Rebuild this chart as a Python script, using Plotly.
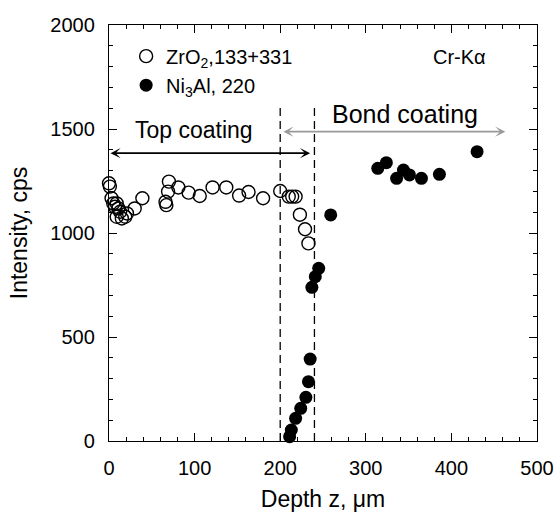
import plotly.graph_objects as go

# ---- data ----
zro2_depth = [0, 1, 3, 5, 7, 9, 9, 11, 13, 15, 19, 21, 30, 39, 66, 67, 69, 70, 81, 93,
              106, 121, 137, 152, 163, 180, 200, 210, 214, 218, 223, 229, 233]
zro2_intensity = [1239, 1223, 1167, 1142, 1126, 1142, 1078, 1118, 1102, 1070, 1078, 1094,
                  1118, 1167, 1150, 1134, 1199, 1247, 1219, 1194, 1178, 1219, 1219, 1180,
                  1197, 1167, 1202, 1175, 1175, 1175, 1088, 1018, 950]

ni3al_depth = [211, 213, 218, 224, 230, 233, 235, 237, 241, 245, 259,
               314, 324, 336, 344, 351, 365, 386, 430]
ni3al_intensity = [21, 53, 109, 157, 210, 285, 394, 739, 790, 830, 1087,
                   1311, 1338, 1263, 1303, 1279, 1263, 1282, 1391]

series_names = ["ZrO<sub>2</sub>,133+331", "Ni<sub>3</sub>Al, 220"]

boundaries = [200, 240]          # dashed interface lines (depth, µm)
boundary_top = 1620

top_arrow = dict(x0=0, x1=235, y=1384)
bond_arrow = dict(x0=202, x1=463, y=1487)
top_label = dict(text="Top coating", x=99, y=1497, size=23)
bond_label = dict(text="Bond coating", x=346, y=1570, size=25)

x_range = [0, 500]
y_range = [0, 2000]

FONT = "Liberation Sans, Arial, Helvetica, sans-serif"

fig = go.Figure()
fig.add_trace(go.Scatter(
    x=zro2_depth, y=zro2_intensity, mode="markers", name=series_names[0],
    marker=dict(symbol="circle-open", size=13, color="black", line=dict(width=1.4)),
    cliponaxis=False))
fig.add_trace(go.Scatter(
    x=ni3al_depth, y=ni3al_intensity, mode="markers", name=series_names[1],
    marker=dict(symbol="circle", size=13, color="black", line=dict(width=0)),
    cliponaxis=False))

for b in boundaries:
    fig.add_shape(type="line", xref="x", yref="y", x0=b, x1=b, y0=0, y1=boundary_top,
                  line=dict(color="black", width=1.3, dash="8px,5px"))

def double_arrow(a, color):
    fig.add_annotation(x=a["x1"], y=a["y"], ax=a["x0"], ay=a["y"], xref="x", yref="y",
                       axref="x", ayref="y", text="", showarrow=True,
                       arrowhead=3, startarrowhead=3, arrowside="end+start",
                       arrowsize=1.0, startarrowsize=1.0, arrowwidth=1.7, arrowcolor=color)

double_arrow(top_arrow, "black")
double_arrow(bond_arrow, "#999999")

for lab in (top_label, bond_label):
    fig.add_annotation(x=lab["x"], y=lab["y"], xref="x", yref="y", text=lab["text"],
                       showarrow=False, font=dict(size=lab["size"], color="black", family=FONT))

fig.add_annotation(x=0.886, y=0.922, xref="paper", yref="paper", text="Cr-Kα",
                   xanchor="right", yanchor="middle", showarrow=False,
                   font=dict(size=20, color="black", family=FONT))

axis_common = dict(
    showgrid=False, zeroline=False, showline=True, linecolor="black", linewidth=1.3,
    mirror="allticks", ticks="inside", ticklen=8, tickwidth=1.3, tickcolor="black",
    tickfont=dict(size=20, color="black", family=FONT), automargin=False,
)

fig.update_layout(
    width=555, height=512,
    margin=dict(l=109, r=18, t=25, b=71),
    paper_bgcolor="white", plot_bgcolor="white",
    font=dict(family=FONT, color="black"),
    xaxis=dict(range=x_range, dtick=100, tick0=0,
               minor=dict(ticks="inside", dtick=20, ticklen=4, tickwidth=1, tickcolor="black"),
               title=dict(text="Depth z, μm", font=dict(size=23), standoff=20),
               ticklabelstandoff=9, **axis_common),
    yaxis=dict(range=y_range, dtick=500, tick0=0,
               minor=dict(ticks="inside", dtick=100, ticklen=4, tickwidth=1, tickcolor="black"),
               title=dict(text="Intensity, cps", font=dict(size=23), standoff=16),
               ticklabelstandoff=9, **axis_common),
    showlegend=True,
    legend=dict(x=0.04, y=0.972, xanchor="left", yanchor="top",
                bgcolor="rgba(0,0,0,0)", font=dict(size=20, color="black", family=FONT),
                tracegroupgap=0),
)

fig.write_html("out.html")
